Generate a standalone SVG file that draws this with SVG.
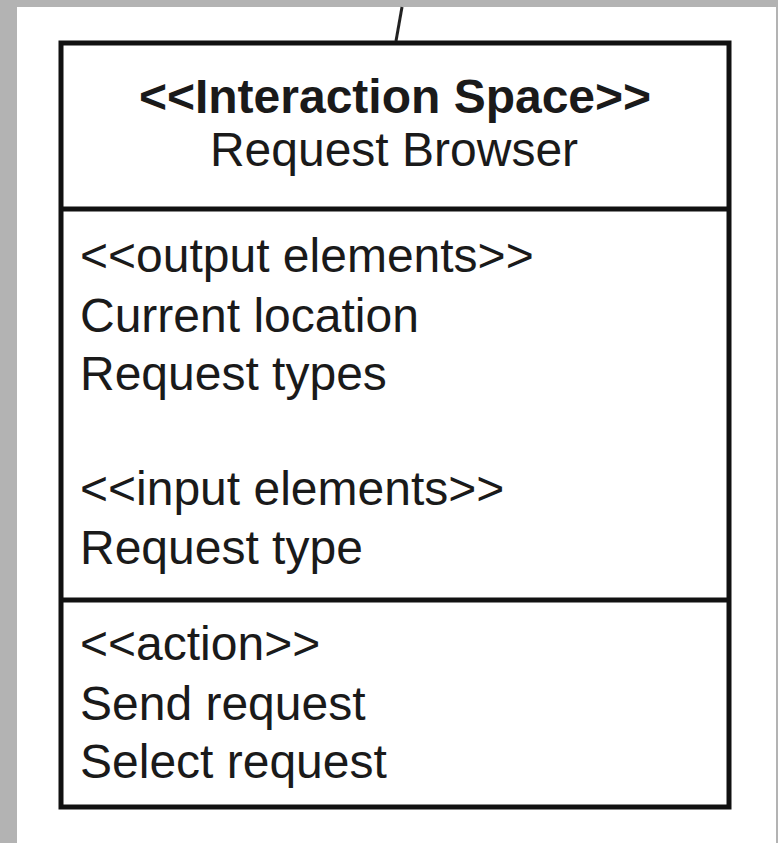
<svg xmlns="http://www.w3.org/2000/svg" width="778" height="843" viewBox="0 0 778 843">
<style>
.t{font-family:"Liberation Sans",Arial,sans-serif;font-size:48px;fill:#1a1a1a}
.b{font-weight:bold}
.edge{stroke:#111;stroke-width:5;fill:none}
</style>
<rect x="0" y="0" width="778" height="843" fill="#b3b3b3"/>
<rect x="17" y="7" width="759" height="836" fill="#ffffff"/>
<g id="connectors">
<line x1="402" y1="7" x2="396" y2="41" stroke="#222" stroke-width="3"/>
</g>
<g id="node-request-browser">
<rect x="61" y="43" width="668" height="764" class="edge" fill="#fff"/>
<line x1="61" y1="209" x2="729" y2="209" class="edge"/>
<line x1="61" y1="600" x2="729" y2="600" class="edge"/>
<text class="t b" x="395" y="113" text-anchor="middle">&lt;&lt;Interaction Space&gt;&gt;</text>
<text class="t" x="394" y="166" text-anchor="middle">Request Browser</text>
<text class="t" x="80" y="272">&lt;&lt;output elements&gt;&gt;</text>
<text class="t" x="80" y="332">Current location</text>
<text class="t" x="80" y="390">Request types</text>
<text class="t" x="80" y="505">&lt;&lt;input elements&gt;&gt;</text>
<text class="t" x="80" y="564">Request type</text>
<text class="t" x="80" y="660">&lt;&lt;action&gt;&gt;</text>
<text class="t" x="80" y="720">Send request</text>
<text class="t" x="80" y="778">Select request</text>
</g>
</svg>
